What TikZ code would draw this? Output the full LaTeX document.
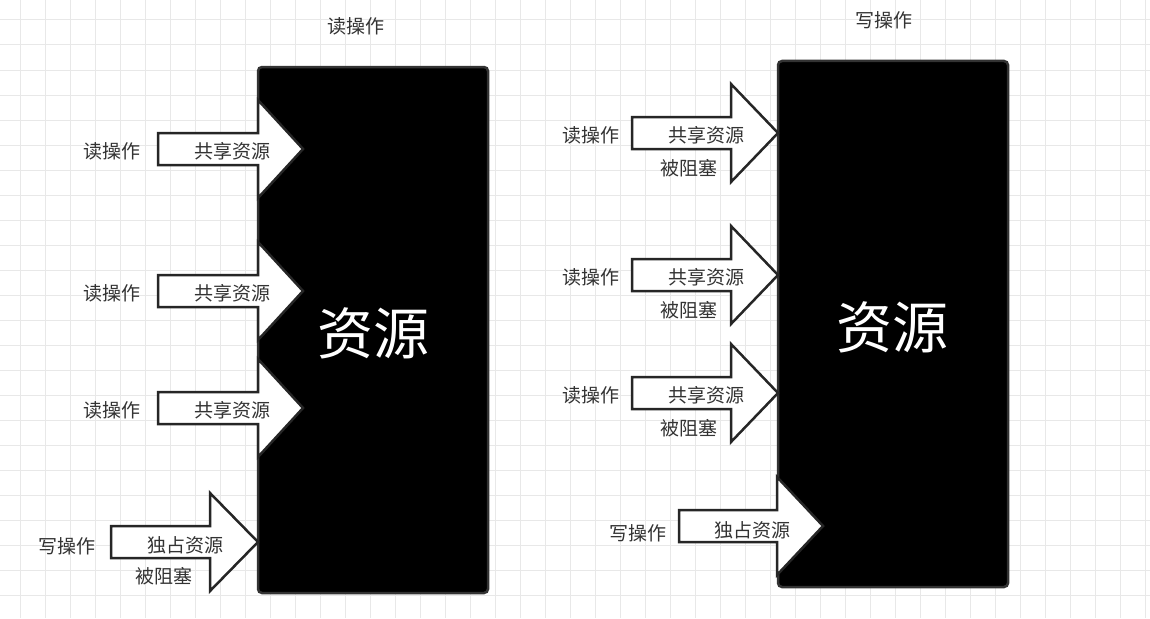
\documentclass[tikz,border=0pt]{standalone}
\usepackage{fontspec}
\newfontfamily\cjk{Noto Sans CJK SC}
\begin{document}
\begin{tikzpicture}[x=1pt,y=-1pt,
  lbl/.style={font=\cjk\fontsize{19}{19}\selectfont,text=black!80,inner sep=0},
  big/.style={font=\cjk\fontsize{56}{56}\selectfont,text=white,inner sep=0},
  res/.style={fill=black,draw=black!80,line width=2.5pt,rounded corners=4pt},
  arr/.style={fill=white,draw=black!85,line width=2.5pt,line join=miter}]
\useasboundingbox (0,0) rectangle (1150,618);
\fill[white] (0,0) rectangle (1150,618);
\foreach \x in {20,45,...,1150} \draw[black!9,line width=1pt] (\x,0) -- (\x,618);
\foreach \y in {20,45,...,618} \draw[black!9,line width=1pt] (0,\y) -- (1150,\y);
% arrow macro: shaft start x, head base x, tip x, center y
\newcommand\myarrow[4]{\draw[arr] (#1,#4-16) -- (#2,#4-16) -- (#2,#4-49) -- (#3,#4) -- (#2,#4+49) -- (#2,#4+16) -- (#1,#4+16) -- cycle;}
% left
\draw[res] (258,67) rectangle (488,593);
\node[big] (r1) at (373,333) {资源};
\node[lbl] (t1) at (356,26) {读操作};
\myarrow{158}{258}{303}{149}
\myarrow{158}{258}{303}{291}
\myarrow{158}{258}{303}{408}
\myarrow{111}{210}{258}{542}
\foreach \y/\n in {149/a,291/b,408/c}{
  \node[lbl] (l\n) at (112,\y+2) {读操作};
  \node[lbl] (s\n) at (232,\y+2) {共享资源};}
\node[lbl] (ld) at (67,546) {写操作};
\node[lbl] (sd) at (185,545) {独占资源};
\node[lbl] (bd) at (164,576) {被阻塞};
% right
\draw[res] (778,61) rectangle (1008,587);
\node[big] (r2) at (892,327) {资源};
\node[lbl] (t2) at (884,20) {写操作};
\myarrow{632}{731}{778}{133}
\myarrow{632}{731}{778}{275}
\myarrow{632}{731}{778}{393}
\myarrow{679}{777}{823}{526}
\foreach \y/\n in {133/e,275/f,393/g}{
  \node[lbl] (l\n) at (591,\y+2) {读操作};
  \node[lbl] (s\n) at (706,\y+2) {共享资源};
  \node[lbl] (b\n) at (689,\y+35) {被阻塞};}
\node[lbl] (lh) at (638,533) {写操作};
\node[lbl] (sh) at (752,530) {独占资源};
\end{tikzpicture}
\end{document}
